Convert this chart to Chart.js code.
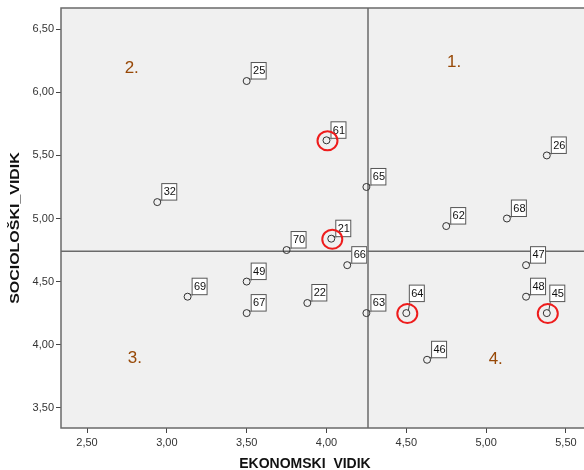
<!DOCTYPE html>
<html>
<head>
<meta charset="utf-8">
<script src="https://cdn.jsdelivr.net/npm/chart.js@4.4.1/dist/chart.umd.min.js"></script>
<style>
    html, body { margin: 0; padding: 0; background: #fff; }
    #wrap { width: 584px; height: 470px; }
</style>
</head>
<body>
<div id="wrap"><canvas id="chart" width="584" height="470"></canvas></div>
<script>
// Data
const caseIds = ['25', '61', '65', '21', '70', '66', '49', '69', '67', '22', '63', '32', '26', '62', '68', '47', '48', '45', '64', '46'];
const ekonomski = [3.50, 4.00, 4.25, 4.03, 3.75, 4.13, 3.50, 3.13, 3.50, 3.88, 4.25, 2.94, 5.38, 4.75, 5.13, 5.25, 5.25, 5.38, 4.50, 4.63];
const socioloski = [6.09, 5.62, 5.25, 4.84, 4.75, 4.63, 4.50, 4.38, 4.25, 4.33, 4.25, 5.13, 5.50, 4.94, 5.00, 4.63, 4.38, 4.25, 4.25, 3.88];
const circledIds = ['61', '21', '64', '45'];

const xTicks = [2.5, 3.0, 3.5, 4.0, 4.5, 5.0, 5.5];
const yTicks = [3.5, 4.0, 4.5, 5.0, 5.5, 6.0, 6.5];
const xRef = 4.26;
const yRef = 4.74;

const quadrantLabels = ['1.', '2.', '3.', '4.'];
const quadrantX = [4.80, 2.78, 2.80, 5.06];
const quadrantY = [6.24, 6.19, 3.89, 3.88];

const xTitle = 'EKONOMSKI  VIDIK';
const yTitle = 'SOCIOLOŠKI_VIDIK';

const points = ekonomski.map((x, i) => ({ x: x, y: socioloski[i] }));

const FONT = '"Liberation Sans", Arial, sans-serif';

function fmt(v) {
    return v.toFixed(2).replace('.', ',');
}

const overlay = {
    id: 'overlay',
    beforeDraw(chart) {
        const a = chart.chartArea;
        const ctx = chart.ctx;
        ctx.save();
        ctx.fillStyle = '#f0f0f0';
        ctx.fillRect(a.left, a.top, a.right - a.left, a.bottom - a.top);
        ctx.restore();
    },
    beforeDatasetsDraw(chart) {
        const a = chart.chartArea;
        const ctx = chart.ctx;
        const xs = chart.scales.x, ys = chart.scales.y;
        ctx.save();
        // reference lines
        ctx.strokeStyle = '#6a6a6a';
        ctx.lineWidth = 1.5;
        const rx = xs.getPixelForValue(xRef);
        const ry = ys.getPixelForValue(yRef);
        ctx.beginPath();
        ctx.moveTo(rx, a.top); ctx.lineTo(rx, a.bottom);
        ctx.moveTo(a.left, ry); ctx.lineTo(a.right, ry);
        ctx.stroke();
        // quadrant numbers
        ctx.fillStyle = '#974806';
        ctx.font = '17px ' + FONT;
        ctx.textAlign = 'center';
        ctx.textBaseline = 'middle';
        quadrantLabels.forEach((t, i) => {
            ctx.fillText(t, xs.getPixelForValue(quadrantX[i]), ys.getPixelForValue(quadrantY[i]));
        });
        // frame
        ctx.strokeStyle = '#6a6a6a';
        ctx.lineWidth = 1.5;
        ctx.beginPath();
        ctx.moveTo(a.right + 2, a.top);
        ctx.lineTo(a.left, a.top);
        ctx.lineTo(a.left, a.bottom);
        ctx.lineTo(a.right + 2, a.bottom);
        ctx.stroke();
        ctx.restore();
    },
    afterDatasetsDraw(chart) {
        const ctx = chart.ctx;
        const meta = chart.getDatasetMeta(0);
        ctx.save();
        ctx.font = '11px ' + FONT;
        ctx.textAlign = 'center';
        ctx.textBaseline = 'middle';
        meta.data.forEach((el, i) => {
            const px = el.x, py = el.y;
            const id = caseIds[i];
            const circled = circledIds.includes(id);
            const lift = circled && socioloski[i] < yRef ? 11 : 1.5;
            const bx = px + (circled && lift > 2 ? 2.5 : 4);
            const bw = 16, bh = 17.5;
            const by = py - lift - bh;
            // leader
            ctx.strokeStyle = '#444';
            ctx.lineWidth = 1;
            ctx.beginPath();
            ctx.moveTo(px + 2, py - 2.5);
            ctx.lineTo(bx + 1, by + bh);
            ctx.stroke();
            // box
            ctx.fillStyle = '#ffffff';
            ctx.fillRect(bx, by, bw, bh);
            ctx.strokeStyle = '#555';
            ctx.strokeRect(bx + 0.5, by + 0.5, bw - 1, bh - 1);
            ctx.fillStyle = '#111';
            ctx.fillText(id, bx + bw / 2 + 0.5, by + bh / 2 + 0.5);
            // red ring
            if (circled) {
                ctx.strokeStyle = '#ee1c1c';
                ctx.lineWidth = 2;
                ctx.beginPath();
                ctx.ellipse(px + 1, py + 0.5, 10, 9.5, 0, 0, Math.PI * 2);
                ctx.stroke();
            }
        });
        ctx.restore();
    },
    afterDraw(chart) {
        // axis titles drawn by hand so they sit where the original puts them
        const ctx = chart.ctx;
        ctx.save();
        ctx.fillStyle = '#111';
        ctx.textAlign = 'center';
        ctx.textBaseline = 'middle';
        ctx.font = 'bold 14px ' + FONT;
        ctx.fillText(xTitle, 305, 464);
        ctx.font = 'bold 12px ' + FONT;
        ctx.translate(15.5, 228);
        ctx.rotate(-Math.PI / 2);
        ctx.scale(1.33, 1);
        ctx.fillText(yTitle, 0, 0);
        ctx.restore();
    }
};

new Chart(document.getElementById('chart').getContext('2d'), {
    type: 'scatter',
    data: {
        datasets: [{
            data: points,
            pointStyle: 'circle',
            pointRadius: 3.5,
            pointHoverRadius: 3.5,
            pointBackgroundColor: 'rgba(0,0,0,0)',
            pointBorderColor: '#333',
            pointBorderWidth: 1
        }]
    },
    options: {
        responsive: false,
        animation: false,
        layout: { autoPadding: false, padding: { top: 8, right: 0, left: 0, bottom: 0 } },
        plugins: {
            legend: { display: false },
            tooltip: { enabled: false }
        },
        scales: {
            x: {
                type: 'linear',
                min: 2.337,
                max: 5.613,
                afterBuildTicks: scale => { scale.ticks = xTicks.map(v => ({ value: v })); },
                afterFit: scale => {
                    scale.height = 42;
                    scale.paddingLeft = 0;
                    scale.paddingRight = 0;
                },
                border: { display: false },
                grid: { drawOnChartArea: false, tickLength: 5, color: '#444', lineWidth: 1 },
                ticks: {
                    callback: v => fmt(v),
                    color: '#333',
                    padding: 3,
                    maxRotation: 0,
                    font: { family: FONT, size: 11 }
                }
            },
            y: {
                type: 'linear',
                min: 3.339,
                max: 6.669,
                afterBuildTicks: scale => { scale.ticks = yTicks.map(v => ({ value: v })); },
                afterFit: scale => {
                    scale.width = 61;
                    scale.paddingTop = 0;
                    scale.paddingBottom = 0;
                },
                border: { display: false },
                grid: { drawOnChartArea: false, tickLength: 5, color: '#444', lineWidth: 1 },
                ticks: {
                    callback: v => fmt(v),
                    color: '#333',
                    padding: 2,
                    font: { family: FONT, size: 11 }
                }
            }
        }
    },
    plugins: [overlay]
});
</script>
</body>
</html>
